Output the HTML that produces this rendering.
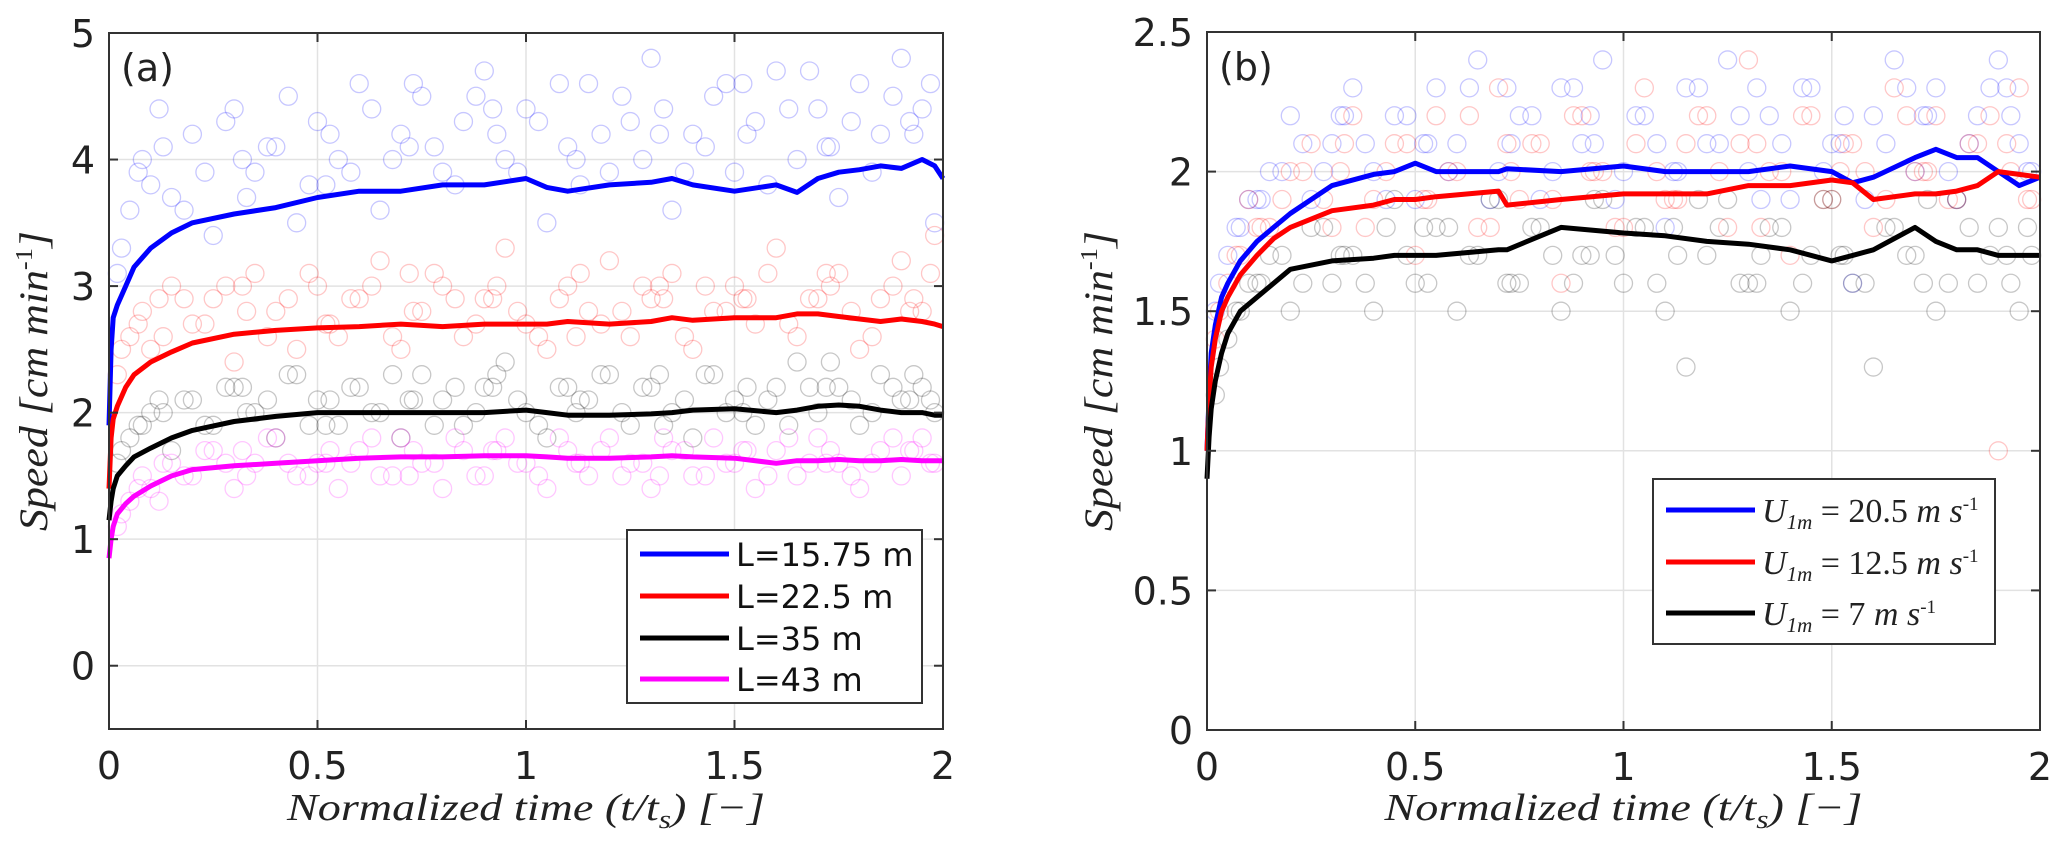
<!DOCTYPE html>
<html><head><meta charset="utf-8">
<style>
html,body{margin:0;padding:0;background:#fff;}
svg{display:block;}
.tick{font-family:"DejaVu Sans","Liberation Sans",sans-serif;font-size:38px;fill:#222;}
.math{font-family:"Liberation Serif",serif;font-style:italic;fill:#222;}
.leg{font-family:"DejaVu Sans","Liberation Sans",sans-serif;font-size:32px;fill:#111;}
</style></head>
<body>
<svg id="fig" width="2067" height="847" viewBox="0 0 2067 847" xmlns="http://www.w3.org/2000/svg"></svg>
<script>
// ---------- Panel (a) data ----------
const aT = [0,0.005,0.01,0.02,0.04,0.06,0.1,0.15,0.2,0.3,0.4,0.5,0.6,0.7,0.8,0.9,1.0,1.05,1.1,1.2,1.3,1.35,1.4,1.5,1.6,1.65,1.7,1.75,1.8,1.85,1.9,1.95,1.98,2.0];
const aBlue = [1.9,2.5,2.75,2.85,3.0,3.15,3.3,3.42,3.5,3.57,3.62,3.7,3.75,3.75,3.8,3.8,3.85,3.78,3.75,3.8,3.82,3.85,3.8,3.75,3.8,3.74,3.85,3.9,3.92,3.95,3.93,4.0,3.95,3.85];
const aRed = [1.4,1.8,1.95,2.05,2.2,2.3,2.4,2.48,2.55,2.62,2.65,2.67,2.68,2.7,2.68,2.7,2.7,2.7,2.72,2.7,2.72,2.75,2.73,2.75,2.75,2.78,2.78,2.76,2.74,2.72,2.74,2.72,2.7,2.68];
const aBlack = [1.15,1.3,1.4,1.5,1.58,1.65,1.72,1.8,1.86,1.93,1.97,2.0,2.0,2.0,2.0,2.0,2.02,2.0,1.98,1.98,1.99,2.0,2.02,2.03,2.0,2.02,2.05,2.06,2.05,2.02,2.0,2.0,1.98,1.98];
const aMag = [0.85,1.0,1.1,1.2,1.28,1.34,1.42,1.5,1.55,1.58,1.6,1.62,1.64,1.65,1.65,1.66,1.66,1.65,1.64,1.64,1.65,1.66,1.65,1.64,1.6,1.62,1.62,1.63,1.62,1.62,1.63,1.62,1.62,1.62];
// scatter (a)
const aScT = [0.02,0.05,0.08,0.1,0.15,0.2,0.25,0.3,0.35,0.4,0.45,0.5,0.55,0.6,0.65,0.7,0.75,0.8,0.85,0.9,0.95,1.0,1.05,1.1,1.15,1.2,1.25,1.3,1.35,1.4,1.45,1.5,1.55,1.6,1.65,1.7,1.75,1.8,1.85,1.9,1.95,1.98,0.12,0.32,0.52,0.72,0.92,1.12,1.32,1.52,1.72,1.92,
  0.03,0.07,0.13,0.18,0.23,0.28,0.33,0.38,0.43,0.48,0.53,0.58,0.63,0.68,0.73,0.78,0.83,0.88,0.93,0.98,1.03,1.08,1.13,1.18,1.23,1.28,1.33,1.38,1.43,1.48,1.53,1.58,1.63,1.68,1.73,1.78,1.83,1.88,1.93,1.97];
const aScBlue = [3.1,3.6,4.0,3.8,3.7,4.2,3.4,4.4,3.9,4.1,3.5,4.3,4.0,4.6,3.6,4.2,4.5,3.9,4.3,4.7,4.0,4.4,3.5,4.1,4.6,3.9,4.3,4.8,3.6,4.2,4.5,3.9,4.3,4.7,4.0,4.4,3.7,4.6,4.2,4.8,4.4,3.5,4.4,4.0,3.8,4.1,4.4,4.0,4.2,4.6,4.1,4.3,
  3.3,3.9,4.1,3.6,3.9,4.3,3.7,4.1,4.5,3.8,4.2,3.9,4.4,4.0,4.6,4.1,3.8,4.5,4.2,3.9,4.3,4.6,3.8,4.2,4.5,4.0,4.4,3.9,4.1,4.6,4.2,3.8,4.4,4.7,4.1,4.3,3.9,4.5,4.2,4.6];
const aScRed = [2.3,2.6,2.8,2.5,3.0,2.7,2.9,2.4,3.1,2.8,2.5,3.0,2.6,2.9,3.2,2.5,2.8,3.0,2.6,2.9,3.3,2.7,2.5,3.0,2.8,3.2,2.6,2.9,3.1,2.5,2.8,3.0,2.7,3.3,2.6,2.9,3.1,2.5,2.9,3.2,2.8,3.4,2.9,3.0,2.7,3.1,2.9,2.6,3.0,2.9,3.1,2.8,
  2.5,2.7,2.6,2.9,2.7,3.0,2.8,2.6,2.9,3.1,2.7,2.9,3.0,2.6,2.8,3.1,2.9,2.7,3.0,2.8,2.6,2.9,3.1,2.7,2.8,3.0,2.9,2.6,3.0,2.8,2.9,3.1,2.7,2.9,3.0,2.8,2.6,3.0,2.9,3.1];
const aScBlack = [1.6,1.8,1.9,2.0,1.7,2.1,1.9,2.2,2.0,1.8,2.3,2.1,1.9,2.2,2.0,1.8,2.3,2.1,1.9,2.2,2.4,2.0,1.8,2.2,2.1,2.3,1.9,2.2,2.0,1.8,2.3,2.1,1.9,2.2,2.4,2.0,2.2,1.9,2.3,2.1,2.2,2.0,2.1,2.2,1.9,2.1,2.2,2.0,2.3,2.0,2.2,2.1,
  1.7,1.9,2.0,2.1,1.9,2.2,2.0,2.1,2.3,1.9,2.1,2.2,2.0,2.3,2.1,1.9,2.2,2.0,2.3,2.1,1.9,2.2,2.1,2.3,2.0,2.2,1.9,2.1,2.3,2.0,2.2,2.1,1.9,2.2,2.4,2.1,2.0,2.2,2.3,2.1];
const aScMag = [1.1,1.3,1.5,1.4,1.6,1.5,1.7,1.4,1.6,1.8,1.5,1.6,1.4,1.7,1.5,1.8,1.6,1.4,1.7,1.5,1.8,1.6,1.4,1.7,1.5,1.8,1.6,1.4,1.7,1.5,1.8,1.6,1.4,1.7,1.5,1.8,1.6,1.4,1.7,1.5,1.8,1.6,1.3,1.7,1.6,1.5,1.7,1.6,1.5,1.7,1.6,1.7,
  1.2,1.4,1.6,1.5,1.7,1.6,1.5,1.8,1.6,1.5,1.7,1.6,1.8,1.5,1.7,1.6,1.8,1.5,1.7,1.6,1.5,1.8,1.6,1.7,1.5,1.6,1.8,1.7,1.5,1.6,1.7,1.5,1.8,1.6,1.7,1.5,1.6,1.8,1.7,1.6];
// ---------- Panel (b) data ----------
const bT = [0,0.005,0.01,0.02,0.035,0.05,0.08,0.12,0.16,0.2,0.3,0.4,0.45,0.5,0.55,0.7,0.72,0.85,1.0,1.1,1.2,1.3,1.4,1.5,1.55,1.6,1.7,1.75,1.8,1.85,1.9,1.95,2.0];
const bBlue = [1.0,1.2,1.35,1.45,1.55,1.6,1.68,1.75,1.8,1.85,1.95,1.99,2.0,2.03,2.0,2.0,2.01,2.0,2.02,2.0,2.0,2.0,2.02,2.0,1.96,1.98,2.05,2.08,2.05,2.05,2.0,1.95,1.98];
const bRed = [1.0,1.18,1.3,1.4,1.5,1.55,1.63,1.7,1.76,1.8,1.86,1.88,1.9,1.9,1.91,1.93,1.88,1.9,1.92,1.92,1.92,1.95,1.95,1.97,1.96,1.9,1.92,1.92,1.93,1.95,2.0,1.99,1.98];
const bBlack = [0.9,1.05,1.15,1.25,1.35,1.42,1.5,1.55,1.6,1.65,1.68,1.69,1.7,1.7,1.7,1.72,1.72,1.8,1.78,1.77,1.75,1.74,1.72,1.68,1.7,1.72,1.8,1.75,1.72,1.72,1.7,1.7,1.7];
const bScT = [0.02,0.05,0.08,0.1,0.15,0.2,0.25,0.3,0.35,0.4,0.45,0.5,0.55,0.6,0.65,0.7,0.75,0.8,0.85,0.9,0.95,1.0,1.05,1.1,1.15,1.2,1.25,1.3,1.35,1.4,1.45,1.5,1.55,1.6,1.65,1.7,1.75,1.8,1.85,1.9,1.95,1.98,0.12,0.32,0.52,0.72,0.92,1.12,1.32,1.52,1.72,1.92,
  0.03,0.07,0.13,0.18,0.23,0.28,0.33,0.38,0.43,0.48,0.53,0.58,0.63,0.68,0.73,0.78,0.83,0.88,0.93,0.98,1.03,1.08,1.13,1.18,1.23,1.28,1.33,1.38,1.43,1.48,1.53,1.58,1.63,1.68,1.73,1.78,1.83,1.88,1.93,1.97];
const bScBlue = [1.5,1.7,1.8,1.9,2.0,2.2,1.9,2.1,2.3,2.0,2.2,1.9,2.3,2.1,2.4,2.0,2.2,1.9,2.3,2.1,2.4,2.0,2.2,1.8,2.3,2.1,2.4,2.0,2.2,1.9,2.3,2.1,1.6,2.2,2.4,2.0,2.3,1.9,2.2,2.4,2.1,2.0,1.9,2.2,2.1,2.3,2.2,2.0,2.3,2.1,2.2,2.3,
  1.6,1.8,1.9,2.0,2.1,2.0,2.2,2.1,1.9,2.2,2.1,2.0,2.3,1.9,2.1,2.2,2.0,2.3,2.1,1.9,2.2,2.1,2.0,2.3,2.1,2.2,1.9,2.1,2.3,2.0,2.2,1.9,2.1,2.3,2.2,2.0,2.1,2.3,2.2,2.0];
const bScRed = [1.4,1.6,1.7,1.9,1.8,2.0,2.1,1.8,2.2,1.9,2.1,1.7,2.2,2.0,1.8,2.3,1.9,2.1,1.6,2.2,2.0,1.8,2.3,1.9,2.1,2.2,1.8,2.4,2.0,1.7,2.2,1.9,2.1,1.8,2.3,2.0,2.2,1.9,2.1,1.0,2.3,1.9,1.8,2.0,1.9,2.1,2.0,1.9,2.1,2.0,2.0,2.1,
  1.5,1.7,1.8,1.9,2.0,1.9,2.1,1.8,2.0,2.1,1.9,2.0,2.2,1.8,2.0,2.1,1.9,2.2,2.0,1.8,2.1,2.0,1.9,2.2,2.0,2.1,1.8,2.0,2.2,1.9,2.1,2.0,1.9,2.2,2.0,1.9,2.1,2.2,2.0,1.9];
const bScBlack = [1.2,1.4,1.5,1.6,1.7,1.5,1.8,1.6,1.7,1.5,1.9,1.6,1.8,1.5,1.7,1.9,1.6,1.8,1.5,1.7,1.9,1.6,1.8,1.5,1.3,1.7,1.9,1.6,1.8,1.5,1.7,1.9,1.6,1.3,1.8,1.7,1.5,1.9,1.6,1.8,1.5,1.7,1.6,1.7,1.8,1.6,1.7,1.8,1.6,1.7,1.6,1.7,
  1.3,1.5,1.6,1.7,1.6,1.8,1.7,1.6,1.8,1.7,1.6,1.8,1.7,1.9,1.6,1.8,1.7,1.6,1.9,1.7,1.8,1.6,1.7,1.9,1.8,1.6,1.7,1.8,1.6,1.9,1.7,1.6,1.8,1.7,1.9,1.6,1.8,1.7,1.6,1.8];

const aXTicks = ["0","0.5","1","1.5","2"];
const aYTicks = ["0","1","2","3","4","5"];
const bYTicks = ["0","0.5","1","1.5","2","2.5"];

const NS = "http://www.w3.org/2000/svg";
const svg = document.getElementById('fig');
function mk(tag, attrs, parent){
  const e = document.createElementNS(NS, tag);
  for (const k in attrs) e.setAttribute(k, attrs[k]);
  (parent||svg).appendChild(e);
  return e;
}

function panel(P){
  const g = mk('g', {});
  
  
  const sx = v => P.x0 + (v - P.xmin)/(P.xmax-P.xmin)*(P.x1-P.x0);
  const sy = v => P.y1 - (v - P.ymin)/(P.ymax-P.ymin)*(P.y1-P.y0);
  aXTicks.forEach(t=>{
    const x = sx(parseFloat(t));
    const l = mk('line',{x1:x,x2:x,y1:P.y0,y2:P.y1,stroke:'#e2e2e2','stroke-width':1.5},g);
    
    
  });
  P.yTicks.forEach(t=>{
    const y = sy(parseFloat(t));
    const l = mk('line',{x1:P.x0,x2:P.x1,y1:y,y2:y,stroke:'#e2e2e2','stroke-width':1.5},g);
    
    
  });
  P.series.forEach(s=>{
    const sg = mk('g',{},g);
    
    
    P.scT.forEach((t,i)=>{
      const c = mk('circle',{cx:sx(t),cy:sy(s.sc[i]),r:9,fill:'none',stroke:s.color,'stroke-opacity':0.22,'stroke-width':1.3},sg);
      
      
    });
  });
  P.series.forEach(s=>{
    const d = P.t.map((t,i)=>(i?'L':'M')+sx(t).toFixed(1)+' '+sy(s.v[i]).toFixed(1)).join(' ');
    const p = mk('path',{d:d,fill:'none',stroke:s.color,'stroke-width':5,'stroke-linejoin':'round'},g);
    
    
  });
  const fr = mk('rect',{x:P.x0,y:P.y0,width:P.x1-P.x0,height:P.y1-P.y0,fill:'none',stroke:'#333','stroke-width':2},g);
  
  
  aXTicks.forEach(t=>{
    const x = sx(parseFloat(t));
    mk('line',{x1:x,x2:x,y1:P.y1,y2:P.y1-9,stroke:'#333','stroke-width':2},g);
    mk('line',{x1:x,x2:x,y1:P.y0,y2:P.y0+9,stroke:'#333','stroke-width':2},g);
    const tx = mk('text',{x:x,y:P.y1+50,'text-anchor':'middle',class:'tick'},g);
    tx.textContent = t;
    
    
  });
  P.yTicks.forEach(t=>{
    const y = sy(parseFloat(t));
    mk('line',{x1:P.x0,x2:P.x0+9,y1:y,y2:y,stroke:'#333','stroke-width':2},g);
    mk('line',{x1:P.x1,x2:P.x1-9,y1:y,y2:y,stroke:'#333','stroke-width':2},g);
    const tx = mk('text',{x:P.x0-14,y:y+14,'text-anchor':'end',class:'tick'},g);
    tx.textContent = t;
    
    
  });
  const pl = mk('text',{x:P.x0+12,y:P.y0+48,class:'tick'},g);
  pl.textContent = P.label;
  
  
  const xt = mk('text',{x:(P.x0+P.x1)/2,y:820,'text-anchor':'middle',class:'math','font-size':38,textLength:478,lengthAdjust:'spacingAndGlyphs'},g);
  xt.innerHTML = 'Normalized time (t/t<tspan font-size="26" dy="8">s</tspan><tspan dy="-8">) [−]</tspan>';
  
  
  const cy = (P.y0+P.y1)/2;
  const yt = mk('text',{x:P.ytx,y:cy,'text-anchor':'middle',class:'math','font-size':40,transform:`rotate(-90 ${P.ytx} ${cy})`,textLength:300,lengthAdjust:'spacingAndGlyphs'},g);
  yt.innerHTML = 'Speed [cm min<tspan font-size="24" dy="-15" font-style="normal">-1</tspan><tspan dy="15">]</tspan>';
  
  
  const L = P.leg;
  const lg = mk('g',{},g);
  
  
  mk('rect',{x:L.x,y:L.y,width:L.w,height:L.h,fill:'#fff',stroke:'#333','stroke-width':2},lg);
  P.series.forEach((s,i)=>{
    const y = L.rows[i];
    const le = mk('g',{},lg);
    
    
    mk('line',{x1:L.x+13,x2:L.x+102,y1:y,y2:y,stroke:s.color,'stroke-width':5},le);
    const tx = mk('text',{x:L.x+109,y:y+12,class:L.cls},le);
    if (L.fs) tx.setAttribute('font-size', L.fs);
    tx.innerHTML = s.label;
  });
}

panel({name:'panel-a',label:'(a)',x0:109,x1:943,y0:33,y1:729,xmin:0,xmax:2,ymin:-0.5,ymax:5,yTicks:aYTicks,ytx:47,
  t:aT,scT:aScT,
  series:[
    {key:'l-15-75',color:'#0000ff',v:aBlue,sc:aScBlue,label:'L=15.75 m'},
    {key:'l-22-5',color:'#ff0000',v:aRed,sc:aScRed,label:'L=22.5 m'},
    {key:'l-35',color:'#000000',v:aBlack,sc:aScBlack,label:'L=35 m'},
    {key:'l-43',color:'#ff00ff',v:aMag,sc:aScMag,label:'L=43 m'}],
  leg:{x:627,y:530,w:295,h:173,rows:[554,596,638,679],cls:'leg'}});

panel({name:'panel-b',label:'(b)',x0:1207,x1:2040,y0:32,y1:730,xmin:0,xmax:2,ymin:0,ymax:2.5,yTicks:bYTicks,ytx:1112,
  t:bT,scT:bScT,
  series:[
    {key:'u-20-5',color:'#0000ff',v:bBlue,sc:bScBlue,label:'U<tspan font-size="21" dy="7">1m</tspan><tspan dy="-7" font-style="normal"> = 20.5 </tspan>m s<tspan font-size="19" dy="-12" font-style="normal">-1</tspan>'},
    {key:'u-12-5',color:'#ff0000',v:bRed,sc:bScRed,label:'U<tspan font-size="21" dy="7">1m</tspan><tspan dy="-7" font-style="normal"> = 12.5 </tspan>m s<tspan font-size="19" dy="-12" font-style="normal">-1</tspan>'},
    {key:'u-7',color:'#000000',v:bBlack,sc:bScBlack,label:'U<tspan font-size="21" dy="7">1m</tspan><tspan dy="-7" font-style="normal"> = 7 </tspan>m s<tspan font-size="19" dy="-12" font-style="normal">-1</tspan>'}],
  leg:{x:1653,y:479,w:342,h:165,rows:[510,562,613],cls:'math',fs:34}});
</script>
</body></html>
